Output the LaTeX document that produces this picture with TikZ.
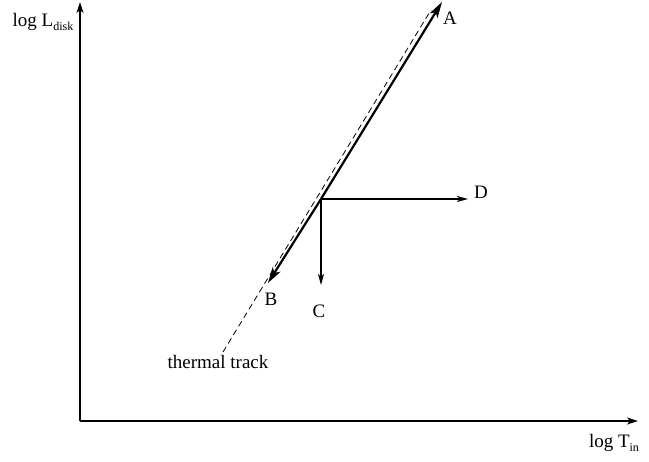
\documentclass[tikz,border=0pt]{standalone}
\usepackage{fontspec}
\setmainfont{Liberation Serif}
\usetikzlibrary{arrows.meta}

\newcommand{\lowsub}[1]{\raisebox{-4pt}{\fontsize{12}{14}\selectfont #1}}

\begin{document}
\begin{tikzpicture}[x=1pt, y=-1pt,
    every node/.style={font=\fontsize{19}{22}\selectfont, inner sep=0pt},
    axisline/.style={line width=1.5pt, -{Stealth[length=11pt, width=7pt, inset=3pt]}},
    bigarrow/.style={line width=2.2pt, -{Stealth[length=16pt, width=9pt, inset=4pt]}},
    smallarrow/.style={line width=1.3pt, -{Stealth[length=11pt, width=6pt, inset=3pt]}},
    track/.style={line width=0.8pt, dash pattern=on 6pt off 4pt}]

    \useasboundingbox (0,0) rectangle (649,462);

    % Axes
    \coordinate (O) at (80,421);
    \coordinate (yTop) at (80,2);
    \coordinate (xEnd) at (638,421);
    \draw[axisline] (O) -- (yTop);
    \draw[axisline] (O) -- (xEnd);

    % Axis labels
    \node (yLabel) at (43,22) {log L\lowsub{disk}};
    \node (xLabel) at (614,443) {log T\lowsub{in}};

    % Thermal track
    \coordinate (trackLow) at (223,352);
    \coordinate (trackHigh) at (431,10);
    \draw[track] (trackLow) -- (trackHigh);
    \node (trackLabel) at (218,362) {thermal track};

    % Branch point and the four directions
    \coordinate (P) at (321,199);
    \coordinate (tipA) at (442,2);
    \coordinate (tipB) at (268,283);
    \coordinate (tipC) at (321,285);
    \coordinate (tipD) at (468,199);

    \draw[bigarrow] (P) -- (tipA);
    \draw[bigarrow] (P) -- (tipB);
    \draw[smallarrow] (P) -- (tipC);
    \draw[smallarrow] (P) -- (tipD);

    \node (labA) at (450,18) {A};
    \node (labB) at (271,299) {B};
    \node (labC) at (319,311) {C};
    \node (labD) at (481,192) {D};

\end{tikzpicture}
\end{document}
